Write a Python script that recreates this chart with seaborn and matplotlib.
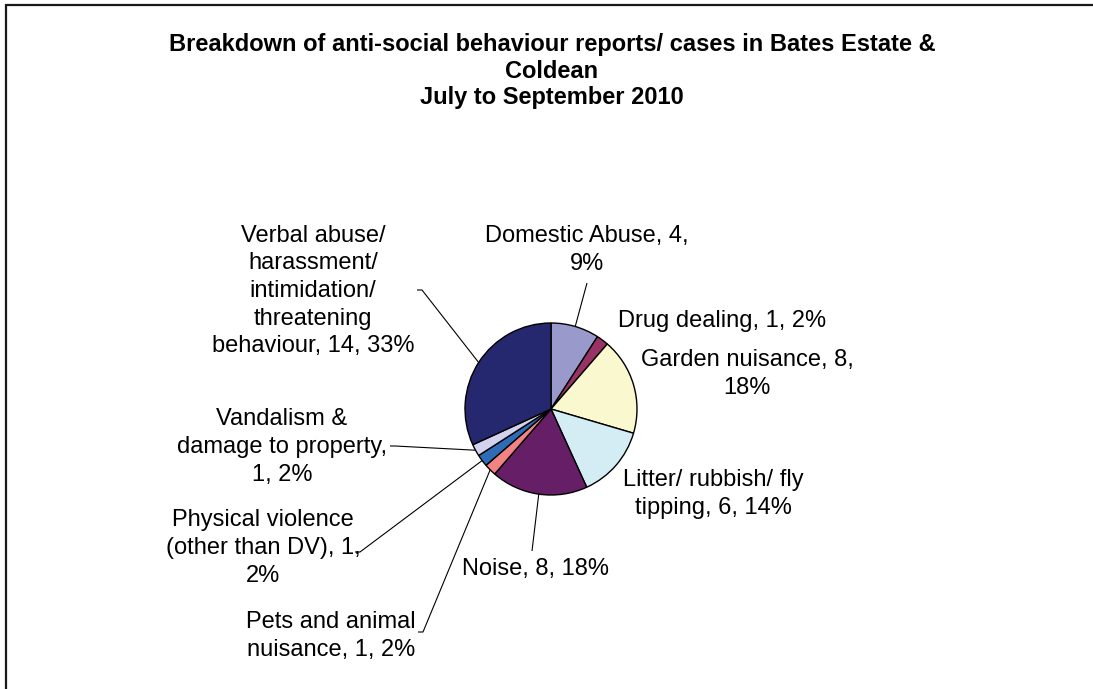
import numpy as np
import matplotlib
matplotlib.use("Agg")
import matplotlib.pyplot as plt
import seaborn as sns

# Anti-social behaviour reports, July to September 2010
categories = [
    "Domestic Abuse",
    "Drug dealing",
    "Garden nuisance",
    "Litter/ rubbish/ fly tipping",
    "Noise",
    "Pets and animal nuisance",
    "Physical violence (other than DV)",
    "Vandalism & damage to property",
    "Verbal abuse/ harassment/ intimidation/ threatening behaviour",
]
counts = [4, 1, 8, 6, 8, 1, 1, 1, 14]
percent_labels = ["9%", "2%", "18%", "14%", "18%", "2%", "2%", "2%", "33%"]

# Label text as wrapped in the chart
label_lines = [
    "Domestic Abuse, {n},\n{p}",
    "Drug dealing, {n}, {p}",
    "Garden nuisance, {n},\n{p}",
    "Litter/ rubbish/ fly\ntipping, {n}, {p}",
    "Noise, {n}, {p}",
    "Pets and animal\nnuisance, {n}, {p}",
    "Physical violence\n(other than DV), {n},\n{p}",
    "Vandalism &\ndamage to property,\n{n}, {p}",
    "Verbal abuse/\nharassment/\nintimidation/\nthreatening\nbehaviour, {n}, {p}",
]

slice_colors = ["#9999CC", "#993366", "#FAF8CF", "#D4ECF4", "#661F66",
                "#F28383", "#2E6CB8", "#D2D2EE", "#25286E"]

sns.set_theme(style="white")
plt.rcParams["font.family"] = ["Liberation Sans", "DejaVu Sans"]

W, H = 1093, 689
fig = plt.figure(figsize=(W / 100, H / 100), dpi=100)
ax = fig.add_axes([0, 0, 1, 1])

cx, cy, R = 551, H - 409, 86
wedges, _ = ax.pie(counts, colors=slice_colors, startangle=90, counterclock=False,
                   center=(cx, cy), radius=R,
                   wedgeprops=dict(edgecolor="black", linewidth=1.0))

ax.set_xlim(0, W)
ax.set_ylim(0, H)
ax.set_aspect("equal")
ax.axis("off")

# Label placement: (text centre x, text centre y) in pixels from top-left,
# plus optional leader anchor and tick direction
label_pos = [
    (587, 250), (722, 321), (747, 374), (713, 494), (535, 569),
    (331, 636), (263, 548), (282, 447), (313, 291),
]
leader_anchor = [
    (587, 283, 0), None, None, None, (532, 551, 0),
    (418, 632, 1), (355, 552, 1), (390, 446, 1), (417, 290, 1),
]

total = sum(counts)
cum = np.cumsum([0] + counts)
for i, (txt, (lx, ly)) in enumerate(zip(label_lines, label_pos)):
    ax.text(lx, H - ly, txt.format(n=counts[i], p=percent_labels[i]),
            ha="center", va="center", fontsize=17, linespacing=1.33,
            color="black")
    anc = leader_anchor[i]
    if anc is None:
        continue
    mid = (cum[i] + cum[i + 1]) / 2 / total
    ang = np.deg2rad(90 - 360 * mid)
    ex, ey = cx + R * np.cos(ang), cy + R * np.sin(ang)
    ax_, ay_, tick = anc
    xs = [ax_, ax_ + 5 * tick, ex] if tick else [ax_, ex]
    ys = [H - ay_, H - ay_, ey] if tick else [H - ay_, ey]
    ax.plot(xs, ys, color="black", linewidth=0.8, solid_capstyle="butt")

ax.text(552, H - 71,
        "Breakdown of anti-social behaviour reports/ cases in Bates Estate &\n"
        "Coldean\nJuly to September 2010",
        ha="center", va="center", fontsize=17, fontweight="bold",
        linespacing=1.2, color="black")

# Outer chart frame
ax.plot([6, 6, W + 5], [-5, H - 5, H - 5], color="#1a1a1a", linewidth=1.6,
        solid_joinstyle="miter", clip_on=False)

fig.savefig("out.png", dpi=100, facecolor="white")
